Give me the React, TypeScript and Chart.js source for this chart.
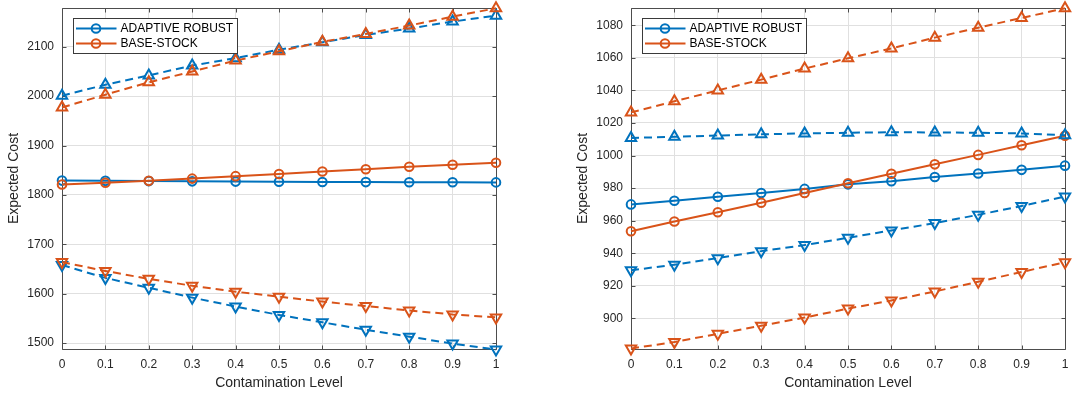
import React, { useEffect, useRef } from "react";
import { Chart, registerables } from "chart.js";

Chart.register(...registerables);

// ---------------- data ----------------
const contamination = [0, 0.1, 0.2, 0.3, 0.4, 0.5, 0.6, 0.7, 0.8, 0.9, 1];
const xTicks = [0, 0.1, 0.2, 0.3, 0.4, 0.5, 0.6, 0.7, 0.8, 0.9, 1];

const seriesNames = ["ADAPTIVE ROBUST", "BASE-STOCK"];

// left panel
const leftYTicks = [1500, 1600, 1700, 1800, 1900, 2000, 2100];
const leftYRange = [1488, 2178.5];
const leftRobustNominal = [1829, 1828.5, 1828, 1827.5, 1827, 1826.6, 1826.3, 1826, 1825.8, 1825.6, 1825.4];
const leftBaseNominal = [1821, 1824.5, 1828.5, 1833, 1838, 1842.5, 1847.5, 1852, 1857, 1861, 1865];
const leftRobustUpper = [2001, 2023, 2042, 2062, 2077, 2094, 2109, 2124, 2137, 2151, 2163];
const leftBaseUpper = [1977, 2003, 2028, 2050, 2072, 2091, 2110, 2126, 2143, 2161, 2178];
const leftRobustLower = [1658, 1632, 1612, 1592, 1574, 1557, 1542, 1527, 1513, 1499, 1487];
const leftBaseLower = [1664, 1646, 1630, 1616, 1604, 1594, 1584, 1575, 1566, 1558, 1552];

// right panel
const rightYTicks = [900, 920, 940, 960, 980, 1000, 1020, 1040, 1060, 1080];
const rightYRange = [881.2, 1090.6];
const rightRobustNominal = [970, 972.2, 974.7, 977, 979.5, 982.3, 984.2, 986.8, 989, 991.2, 993.8];
const rightBaseNominal = [953.5, 959.5, 965.2, 971, 977, 983, 988.8, 994.6, 1000.4, 1006.3, 1012.2];
const rightRobustUpper = [1010.8, 1011.5, 1012.3, 1013, 1013.6, 1014, 1014.3, 1014.2, 1014, 1013.6, 1012.5];
const rightBaseUpper = [1026.5, 1033.3, 1040, 1046.6, 1053.4, 1059.7, 1065.8, 1072.4, 1078.5, 1084.5, 1090.4];
const rightRobustLower = [929.5, 933, 937, 941.3, 945, 949.5, 954, 958.5, 963.6, 969, 974.8];
const rightBaseLower = [881.5, 885.5, 890.5, 895.5, 900.5, 906, 911, 916.5, 922.5, 928.5, 934.5];

// ---------------- styling ----------------
const BLUE = "#0072BD";
const ORANGE = "#D95319";
const TEXT = "#262626";
const GRID = "#e0e0e0";
const AXIS = "#4d4d4d";
const FONT = "'Liberation Sans', Arial, Helvetica, sans-serif";

type Kind = "nominal" | "upper" | "lower";

function makeDataset(values: number[], color: string, kind: Kind, label: string, inLegend: boolean) {
  const base: any = {
    label,
    inLegend,
    data: contamination.map((x, i) => ({ x, y: values[i] })),
    borderColor: color,
    backgroundColor: color,
    borderWidth: 2,
    pointBorderColor: color,
    pointBackgroundColor: "rgba(0,0,0,0)",
    pointBorderWidth: 2,
    tension: 0,
    clip: false,
    fill: false,
  };
  if (kind === "nominal") {
    base.pointStyle = "circle";
    base.pointRadius = 4.3;
  } else {
    base.borderDash = [8, 5];
    base.pointStyle = "triangle";
    base.pointRadius = 6;
    base.pointRotation = kind === "lower" ? 180 : 0;
  }
  return base;
}

const boxPlugin = {
  id: "matlabBox",
  beforeDatasetsDraw(chart: any) {
    const { ctx, chartArea, scales } = chart;
    const l = Math.round(chartArea.left) + 0.5;
    const r = Math.round(chartArea.right) + 0.5;
    const t = Math.round(chartArea.top) + 0.5;
    const b = Math.round(chartArea.bottom) + 0.5;
    ctx.save();
    ctx.strokeStyle = AXIS;
    ctx.lineWidth = 1;
    ctx.beginPath();
    ctx.rect(l, t, r - l, b - t);
    const tl = 4;
    scales.x.ticks.forEach((tk: any) => {
      const px = Math.round(scales.x.getPixelForValue(tk.value)) + 0.5;
      ctx.moveTo(px, b);
      ctx.lineTo(px, b - tl);
      ctx.moveTo(px, t);
      ctx.lineTo(px, t + tl);
    });
    scales.y.ticks.forEach((tk: any) => {
      const py = Math.round(scales.y.getPixelForValue(tk.value)) + 0.5;
      ctx.moveTo(l, py);
      ctx.lineTo(l + tl, py);
      ctx.moveTo(r, py);
      ctx.lineTo(r - tl, py);
    });
    ctx.stroke();
    ctx.restore();
  },
};

const legendPlugin = {
  id: "matlabLegend",
  afterDraw(chart: any) {
    const { ctx, chartArea } = chart;
    const items = chart.data.datasets.filter((d: any) => d.inLegend);
    const bx = Math.round(chartArea.left + 11) + 0.5;
    const by = 18.5;
    const bw = 164;
    const bh = 35;
    ctx.save();
    ctx.fillStyle = "#ffffff";
    ctx.fillRect(bx, by, bw, bh);
    ctx.strokeStyle = "#3a3a3a";
    ctx.lineWidth = 1;
    ctx.strokeRect(bx, by, bw, bh);
    items.forEach((d: any, i: number) => {
      const y = by + 10 + i * 15;
      ctx.strokeStyle = d.borderColor;
      ctx.lineWidth = 2;
      ctx.setLineDash([]);
      ctx.beginPath();
      ctx.moveTo(bx + 2.5, y);
      ctx.lineTo(bx + 43, y);
      ctx.stroke();
      ctx.lineWidth = 2;
      ctx.beginPath();
      ctx.arc(bx + 22.5, y, 4.3, 0, Math.PI * 2);
      ctx.stroke();
      ctx.fillStyle = "#000000";
      ctx.font = `12px ${FONT}`;
      ctx.textBaseline = "middle";
      ctx.textAlign = "left";
      ctx.fillText(d.label, bx + 47, y + 0.5);
    });
    ctx.restore();
  },
};

function buildConfig(
  yTicks: number[],
  yRange: number[],
  series: { values: number[]; color: string; kind: Kind; name: string }[],
  rightPad: number
): any {
  const datasets = series.map((s, i) => {
    const ds = makeDataset(s.values, s.color, s.kind, s.name, s.kind === "nominal");
    ds.order = series.length - i;
    return ds;
  });
  return {
    type: "line",
    data: { datasets },
    options: {
      responsive: false,
      animation: false,
      devicePixelRatio: 1,
      layout: { padding: { left: 0, top: 6, right: rightPad, bottom: 0 } },
      plugins: { legend: { display: false }, tooltip: { enabled: false } },
      scales: {
        x: {
          type: "linear",
          min: 0,
          max: 1,
          afterBuildTicks: (s: any) => {
            s.ticks = xTicks.map((v) => ({ value: v }));
          },
          afterFit: (s: any) => {
            s.height = 48;
            s.paddingLeft = 0;
            s.paddingRight = 0;
          },
          ticks: {
            autoSkip: false,
            maxRotation: 0,
            padding: 8,
            color: TEXT,
            font: { family: FONT, size: 12 },
            callback: (v: any) => String(v),
          },
          grid: { color: GRID, lineWidth: 1, drawTicks: false },
          border: { display: false },
          title: {
            display: true,
            text: "Contamination Level",
            color: TEXT,
            font: { family: FONT, size: 14 },
            padding: { top: 0, bottom: 5 },
          },
        },
        y: {
          type: "linear",
          min: yRange[0],
          max: yRange[1],
          afterBuildTicks: (s: any) => {
            s.ticks = yTicks.map((v) => ({ value: v }));
          },
          afterFit: (s: any) => {
            s.width = 62;
            s.paddingTop = 0;
            s.paddingBottom = 0;
          },
          ticks: {
            autoSkip: false,
            padding: 8,
            color: TEXT,
            font: { family: FONT, size: 12 },
            callback: (v: any) => String(v),
          },
          grid: { color: GRID, lineWidth: 1, drawTicks: false },
          border: { display: false },
          title: {
            display: true,
            text: "Expected Cost",
            color: TEXT,
            font: { family: FONT, size: 14 },
            padding: { top: 6, bottom: 0 },
          },
        },
      },
    },
    plugins: [boxPlugin, legendPlugin],
  };
}

function Panel({ left, width, config }: { left: number; width: number; config: any }) {
  const ref = useRef<HTMLCanvasElement | null>(null);
  useEffect(() => {
    if (!ref.current) return;
    const chart = new Chart(ref.current, config);
    return () => chart.destroy();
  }, [config]);
  return (
    <canvas
      ref={ref}
      width={width}
      height={397}
      style={{ position: "absolute", left, top: 0, width, height: 397, display: "block" }}
    />
  );
}

const leftConfig = buildConfig(
  leftYTicks,
  leftYRange,
  [
    { values: leftRobustNominal, color: BLUE, kind: "nominal", name: seriesNames[0] },
    { values: leftBaseNominal, color: ORANGE, kind: "nominal", name: seriesNames[1] },
    { values: leftRobustUpper, color: BLUE, kind: "upper", name: seriesNames[0] },
    { values: leftBaseUpper, color: ORANGE, kind: "upper", name: seriesNames[1] },
    { values: leftRobustLower, color: BLUE, kind: "lower", name: seriesNames[0] },
    { values: leftBaseLower, color: ORANGE, kind: "lower", name: seriesNames[1] },
  ],
  40
);

const rightConfig = buildConfig(
  rightYTicks,
  rightYRange,
  [
    { values: rightRobustNominal, color: BLUE, kind: "nominal", name: seriesNames[0] },
    { values: rightBaseNominal, color: ORANGE, kind: "nominal", name: seriesNames[1] },
    { values: rightRobustUpper, color: BLUE, kind: "upper", name: seriesNames[0] },
    { values: rightBaseUpper, color: ORANGE, kind: "upper", name: seriesNames[1] },
    { values: rightRobustLower, color: BLUE, kind: "lower", name: seriesNames[0] },
    { values: rightBaseLower, color: ORANGE, kind: "lower", name: seriesNames[1] },
  ],
  7
);

export default function App() {
  return (
    <div
      style={{
        position: "fixed",
        left: 0,
        top: 0,
        width: 1073,
        height: 397,
        background: "#ffffff",
        overflow: "hidden",
      }}
    >
      <Panel left={0} width={536} config={leftConfig} />
      <Panel left={569} width={504} config={rightConfig} />
    </div>
  );
}
